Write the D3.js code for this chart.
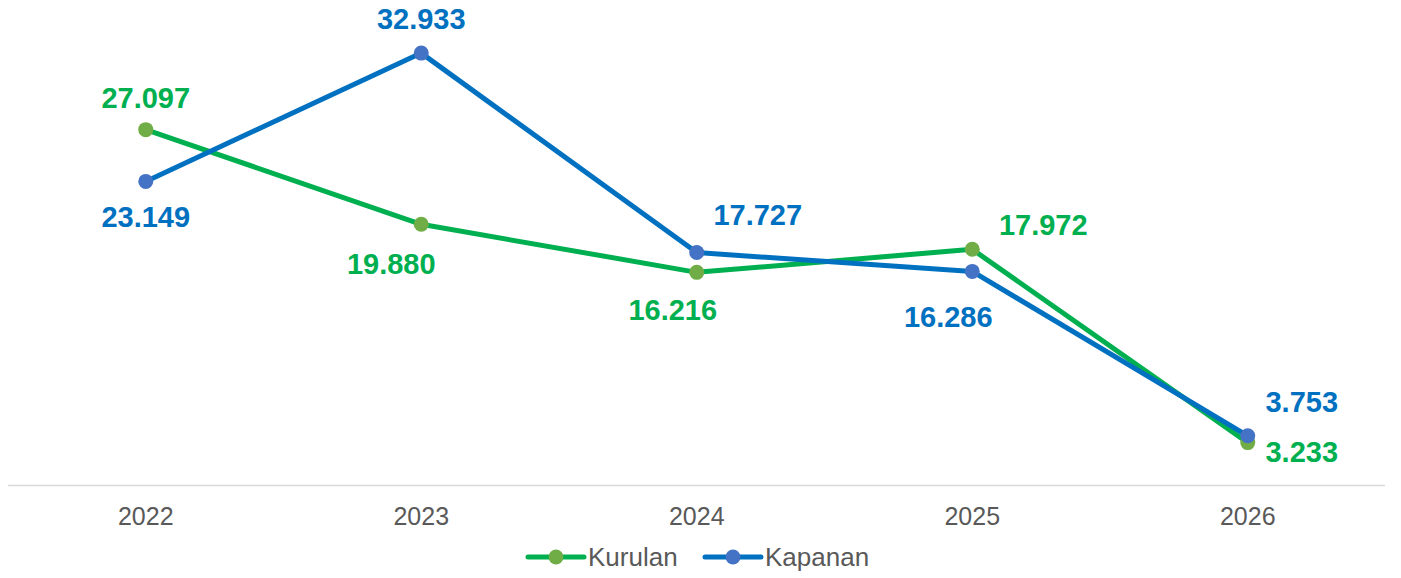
<!DOCTYPE html>
<html><head><meta charset="utf-8">
<script src="https://cdn.jsdelivr.net/npm/d3@7"></script>
<style>body{margin:0;background:#fff;} svg{display:block;font-family:"Liberation Sans",Arial,sans-serif;}</style>
</head><body>
<svg id="c" width="1401" height="578"></svg>
<script>
const years = ["2022","2023","2024","2025","2026"];
const kurulan = [27097, 19880, 16216, 17972, 3233];
const kapanan = [23149, 32933, 17727, 16286, 3753];
const seriesNames = ["Kurulan","Kapanan"];

// label placement (layout only): [dx, dy] from the point
const kurulanLabelPos = [[0,-32],[-30,40],[-24,38],[71,-24],[54,9]];
const kapananLabelPos = [[0,36],[0,-34],[61,-38],[-24,46],[54,-34]];

const svg = d3.select("#c");
const x = d3.scaleBand().domain(years).range([8,1385.5]);
const y = d3.scaleLinear().domain([0,35000]).range([485,26]);
const cx = d => x(d)+x.bandwidth()/2;
const fmt = v => d3.format(",")(v).replace(/,/g,".");

svg.append("line").attr("x1",8).attr("x2",1385).attr("y1",485.5).attr("y2",485.5)
  .attr("stroke","#d9d9d9").attr("stroke-width",1.5);

const xAxis = d3.axisBottom(x).tickSize(0).tickPadding(22);
const gx = svg.append("g").attr("transform","translate(0,485)").call(xAxis);
gx.select(".domain").remove();
gx.selectAll("text").attr("font-size",25).attr("fill","#595959")
  .attr("font-family","Liberation Sans, Arial, sans-serif");

const series = [
  {name:"Kurulan", vals:kurulan, line:"#00B050", marker:"#70AD47", label:"#00B050", pos:kurulanLabelPos},
  {name:"Kapanan", vals:kapanan, line:"#0070C0", marker:"#4472C4", label:"#0070C0", pos:kapananLabelPos}
];
const line = d3.line().x((d,i)=>cx(years[i])).y(d=>y(d));
series.forEach(s=>{
  svg.append("path").datum(s.vals).attr("d",line).attr("fill","none")
    .attr("stroke",s.line).attr("stroke-width",5).attr("stroke-linejoin","round").attr("stroke-linecap","round");
});
series.forEach(s=>{
  svg.append("g").selectAll("circle").data(s.vals).join("circle")
    .attr("cx",(d,i)=>cx(years[i])).attr("cy",d=>y(d)).attr("r",7.5).attr("fill",s.marker);
});
series.forEach(s=>{
  svg.append("g").selectAll("text").data(s.vals).join("text")
    .attr("x",(d,i)=>cx(years[i])+s.pos[i][0]).attr("y",(d,i)=>y(d)+s.pos[i][1])
    .attr("text-anchor","middle").attr("dominant-baseline","central")
    .attr("font-size",29).attr("font-weight","bold").attr("fill",s.label)
    .text(d=>fmt(d));
});

// legend
const leg = [{x:528, s:series[0]},{x:705, s:series[1]}];
leg.forEach(l=>{
  const g = svg.append("g").attr("transform",`translate(${l.x},557)`);
  g.append("line").attr("x1",0).attr("x2",56).attr("stroke",l.s.line).attr("stroke-width",5).attr("stroke-linecap","round");
  g.append("circle").attr("cx",28).attr("r",7.5).attr("fill",l.s.marker);
  g.append("text").attr("x",60).attr("dominant-baseline","central").attr("font-size",26).attr("fill","#595959").text(l.s.name);
});
</script>
</body></html>
